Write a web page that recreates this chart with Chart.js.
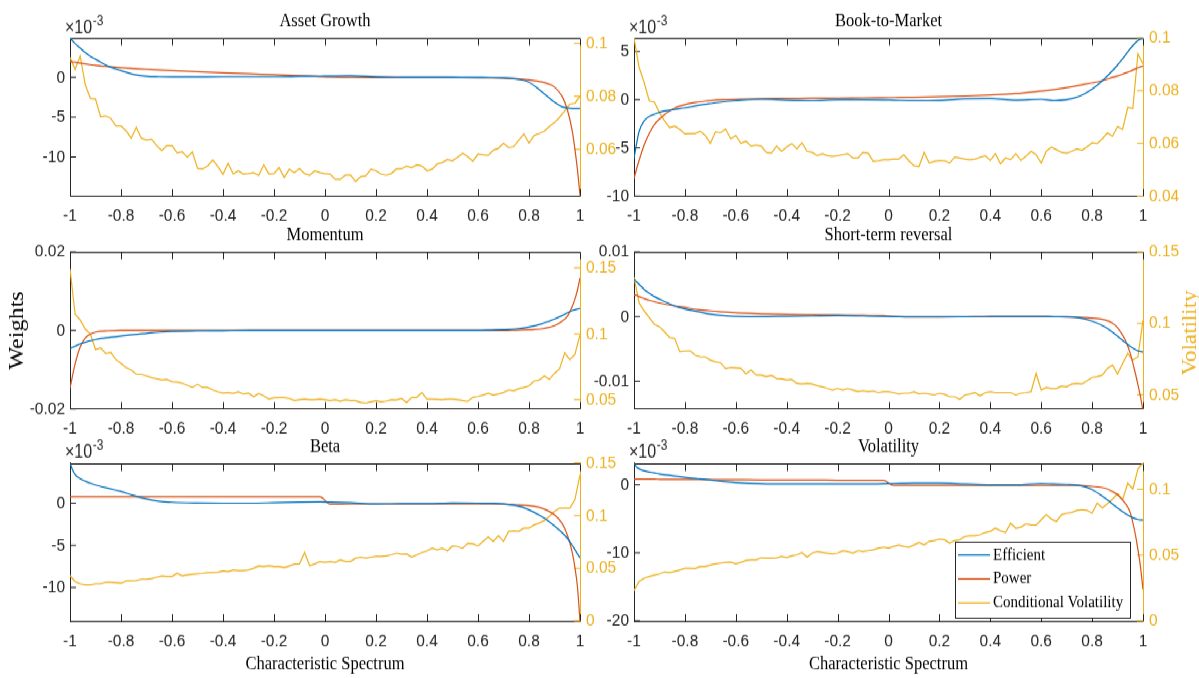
<!DOCTYPE html>
<html><head><meta charset="utf-8">
<script src="https://cdn.jsdelivr.net/npm/chart.js@4.4.1/dist/chart.umd.min.js"></script>
<style>
html,body{margin:0;padding:0;background:#fff;overflow:hidden;width:1199px;height:678px;}
#wrap{position:absolute;left:0;top:0;width:1199px;height:590px;transform-origin:0 0;}
canvas{position:absolute;}
</style></head><body><div id="wrap"></div>
<script>
// ---------- DATA ----------
const xTicks = [-1,-0.8,-0.6,-0.4,-0.2,0,0.2,0.4,0.6,0.8,1];
// grid of the smooth weight curves
const xs = [-1,-0.99,-0.98,-0.96,-0.94,-0.92,-0.9,-0.85,-0.8,-0.75,-0.7,-0.65,-0.6,-0.5,-0.4,-0.3,-0.2,-0.1,-0.02,0.02,0.1,0.2,0.3,0.4,0.5,0.6,0.65,0.7,0.75,0.8,0.85,0.88,0.9,0.93,0.95,0.97,0.98,0.99,1];
// grid of the conditional volatility series
const xv = [-1,-0.98,-0.96,-0.94,-0.92,-0.9,-0.88,-0.86,-0.84,-0.82,
-0.8,-0.78,-0.76,-0.74,-0.72,-0.7,-0.68,-0.66,-0.64,-0.62,
-0.6,-0.58,-0.56,-0.54,-0.52,-0.5,-0.48,-0.46,-0.44,-0.42,
-0.4,-0.38,-0.36,-0.34,-0.32,-0.3,-0.28,-0.26,-0.24,-0.22,
-0.2,-0.18,-0.16,-0.14,-0.12,-0.1,-0.08,-0.06,-0.04,-0.02,
0,0.02,0.04,0.06,0.08,0.1,0.12,0.14,0.16,0.18,
0.2,0.22,0.24,0.26,0.28,0.3,0.32,0.34,0.36,0.38,
0.4,0.42,0.44,0.46,0.48,0.5,0.52,0.54,0.56,0.58,
0.6,0.62,0.64,0.66,0.68,0.7,0.72,0.74,0.76,0.78,
0.8,0.82,0.84,0.86,0.88,0.9,0.92,0.94,0.96,0.98,1];

// Asset Growth (weights in 1e-3)
const assetEff = [4.9,4.6,4.25,3.7,3.1,2.65,2.3,1.4,0.85,0.35,0.13,0.08,0.06,0.07,0.08,0.08,0.08,0.12,0.15,0.17,0.2,0.05,0,-0.02,0,-0.02,-0.03,-0.05,-0.2,-0.6,-1.8,-2.6,-3.1,-3.7,-3.85,-3.9,-3.9,-3.9,-3.9];
const assetPow = [2.0,1.95,1.9,1.8,1.7,1.6,1.5,1.35,1.22,1.12,1.02,0.93,0.85,0.7,0.57,0.45,0.34,0.22,0.1,0.05,0.02,0,0,0,-0.02,-0.04,-0.06,-0.1,-0.15,-0.3,-0.55,-0.85,-1.2,-2.4,-4.0,-6.8,-9.0,-11.6,-14.8];
const assetVol = [0.0947,0.0902,0.0952,0.0843,0.0792,0.079,0.0723,0.0726,0.0717,0.0688,
0.0688,0.067,0.0642,0.0683,0.0642,0.0635,0.0638,0.0614,0.0595,0.0614,
0.0614,0.0587,0.0591,0.057,0.059,0.0528,0.0526,0.0538,0.056,0.0535,
0.0506,0.0547,0.0507,0.0519,0.0507,0.0509,0.0512,0.0502,0.0541,0.0507,
0.0509,0.0531,0.0494,0.0525,0.0512,0.0528,0.0509,0.0503,0.0519,0.0512,
0.0509,0.0507,0.0487,0.0487,0.0503,0.0503,0.0478,0.0497,0.05,0.0525,
0.0519,0.0507,0.0503,0.0509,0.0526,0.0527,0.0537,0.0531,0.0541,0.0537,
0.0519,0.0525,0.0545,0.055,0.0562,0.0557,0.057,0.0585,0.0572,0.0555,
0.0582,0.0579,0.0577,0.0597,0.0604,0.0623,0.0606,0.061,0.0635,0.0658,
0.0623,0.0652,0.066,0.0669,0.0686,0.0701,0.0721,0.0745,0.0771,0.0774,0.08];

// Book-to-Market (weights in 1e-3)
const bmEff = [-6.07,-4.6,-3.3,-2.2,-1.75,-1.5,-1.3,-1.05,-0.85,-0.6,-0.4,-0.22,-0.1,0.05,-0.05,-0.1,0,0,-0.02,-0.05,-0.1,-0.08,0.1,0.12,-0.05,0.05,-0.1,0,0.35,1.1,2.2,3.0,3.6,4.6,5.3,5.9,6.15,6.3,6.35];
const bmPow = [-8.2,-7.2,-6.3,-4.7,-3.5,-2.6,-2.0,-1.0,-0.5,-0.25,-0.1,0,0.05,0.1,0.12,0.15,0.17,0.2,0.22,0.23,0.25,0.3,0.38,0.48,0.62,0.9,1.05,1.25,1.5,1.75,2.05,2.3,2.45,2.75,2.95,3.2,3.3,3.4,3.5];
const bmVol = [0.1,0.0889,0.0831,0.0761,0.0757,0.0717,0.0685,0.0659,0.0665,0.0653,
0.0636,0.0637,0.0637,0.0646,0.063,0.0599,0.0644,0.064,0.0655,0.0617,
0.063,0.0599,0.0608,0.0589,0.0594,0.0589,0.0566,0.0563,0.0589,0.057,
0.0586,0.0599,0.0579,0.0602,0.057,0.0566,0.0553,0.0561,0.0553,0.0551,
0.0553,0.0557,0.0561,0.0544,0.0544,0.0566,0.0563,0.0531,0.0534,0.0538,
0.0538,0.054,0.054,0.0557,0.0534,0.0515,0.0512,0.0566,0.0525,0.0531,
0.0535,0.0534,0.0525,0.0548,0.0544,0.054,0.0538,0.054,0.0547,0.0553,
0.0535,0.0561,0.0522,0.0545,0.0538,0.0561,0.0535,0.0551,0.057,0.0557,
0.0525,0.057,0.0586,0.0576,0.0566,0.0563,0.057,0.0579,0.0574,0.0586,
0.0602,0.0599,0.0617,0.064,0.0627,0.0663,0.0653,0.0736,0.0732,0.094,0.0902];

// Momentum
const momEff = [-0.0047,-0.0043,-0.004,-0.0034,-0.003,-0.0026,-0.0023,-0.0018,-0.0014,-0.001,-0.0007,-0.0004,-0.0002,-0.0001,-0.00005,0,0,0,0,0,0,0,0,0,0,0,0.0001,0.0002,0.0004,0.0009,0.0017,0.0024,0.0029,0.0038,0.0045,0.0051,0.0053,0.0055,0.0056];
const momPow = [-0.0147,-0.0115,-0.0085,-0.0042,-0.0019,-0.0009,-0.0004,-0.0001,0,0,0,0,0,0,0,0,0,0,0,0,0,0,0,0,0,0,0,0,0.0001,0.0002,0.0004,0.0008,0.0012,0.0024,0.0036,0.0062,0.008,0.0103,0.0134];
const momVol = [0.1493,0.1148,0.1105,0.1035,0.1,0.088,0.0893,0.085,0.086,0.0805,
0.0775,0.0743,0.0725,0.0693,0.0693,0.068,0.0668,0.066,0.065,0.0655,
0.0638,0.0635,0.0625,0.061,0.0593,0.0618,0.0593,0.0593,0.0575,0.056,
0.055,0.0555,0.0548,0.056,0.0543,0.055,0.0523,0.0548,0.053,0.0505,
0.0515,0.0518,0.0518,0.051,0.0493,0.05,0.0505,0.05,0.05,0.0505,
0.05,0.0493,0.05,0.049,0.05,0.0493,0.0493,0.048,0.0475,0.0485,
0.0493,0.0485,0.049,0.05,0.0498,0.051,0.048,0.0518,0.0518,0.0555,
0.0505,0.0505,0.0503,0.05,0.0505,0.0505,0.05,0.0493,0.0488,0.0518,
0.0525,0.0535,0.055,0.0535,0.0543,0.0555,0.0575,0.0568,0.0585,0.0593,
0.0605,0.0643,0.065,0.068,0.0655,0.07,0.0735,0.0855,0.0805,0.0843,0.0993];

// Short-term reversal
const strEff = [0.0058,0.0054,0.005,0.0042,0.0036,0.0031,0.0027,0.0018,0.0012,0.0008,0.0004,0.00015,0.00003,0,0.00005,0.0001,0.00015,0.0001,0.00005,0,0,0,0,0.00002,0.00005,0.00005,0,-0.00002,-0.0002,-0.0007,-0.0016,-0.0024,-0.003,-0.004,-0.0046,-0.0051,-0.0053,-0.0054,-0.0055];
const strPow = [0.0034,0.0033,0.0031,0.0028,0.0025,0.0023,0.0021,0.0017,0.0014,0.0011,0.0009,0.00075,0.0006,0.00045,0.00035,0.0003,0.00025,0.0002,0.00015,0.00005,-0.00005,-0.00005,-0.00003,0,0,0,-0.00003,-0.00005,-0.0001,-0.00025,-0.0005,-0.001,-0.0017,-0.0036,-0.0057,-0.0088,-0.0105,-0.0124,-0.0146];
const strVol = [0.1325,0.1143,0.1088,0.1041,0.0994,0.0976,0.0941,0.0901,0.0894,0.0801,
0.0806,0.0808,0.0778,0.0766,0.0766,0.0743,0.0731,0.0724,0.0682,0.0691,
0.0689,0.0684,0.0645,0.0673,0.0638,0.0638,0.0626,0.0635,0.0614,0.0612,
0.0603,0.0607,0.0579,0.0575,0.0579,0.0575,0.0563,0.0556,0.0544,0.0533,
0.0544,0.0533,0.0544,0.0533,0.0521,0.0528,0.0521,0.0526,0.0514,0.0521,
0.0521,0.0514,0.0505,0.051,0.051,0.0521,0.0505,0.051,0.0505,0.0498,
0.051,0.0503,0.0486,0.0486,0.0468,0.0498,0.0505,0.0514,0.0491,0.0514,
0.0521,0.0514,0.0514,0.0514,0.0514,0.0498,0.051,0.0514,0.0521,0.0649,
0.0533,0.0551,0.0544,0.0544,0.0561,0.0556,0.0575,0.0579,0.0575,0.0598,
0.0621,0.0626,0.0638,0.0684,0.0708,0.0645,0.0719,0.0789,0.0743,0.0766,0.1022];

// Beta (weights in 1e-3)
const betaEff = [4.74,3.95,3.4,2.9,2.6,2.35,2.15,1.75,1.38,0.9,0.5,0.22,0.1,0.02,0,0,0.05,0.12,0.15,0.12,0.04,-0.08,-0.05,-0.05,0.02,0,-0.02,-0.08,-0.3,-0.8,-1.6,-2.2,-2.7,-3.5,-4.15,-5.0,-5.5,-6.0,-6.5];
const betaPow = [0.76,0.76,0.76,0.76,0.76,0.76,0.76,0.76,0.76,0.76,0.76,0.76,0.76,0.76,0.76,0.76,0.76,0.76,0.76,-0.12,-0.1,-0.1,-0.1,-0.1,-0.1,-0.1,-0.1,-0.12,-0.2,-0.3,-0.6,-1.0,-1.4,-2.4,-3.75,-5.9,-7.6,-9.9,-13.95];
const betaVol = [0.0431,0.0374,0.0352,0.0342,0.0342,0.0352,0.0352,0.0368,0.0368,0.0365,
0.0358,0.038,0.038,0.0384,0.0396,0.0396,0.0403,0.0415,0.0428,0.0422,
0.0422,0.0453,0.0428,0.0438,0.0444,0.045,0.0453,0.046,0.046,0.0463,
0.0476,0.0469,0.0485,0.0479,0.0479,0.0485,0.0501,0.0523,0.0517,0.0526,
0.0517,0.0517,0.0507,0.0523,0.0539,0.0542,0.065,0.0523,0.0542,0.0564,
0.0555,0.0564,0.0555,0.058,0.0564,0.0564,0.0596,0.0606,0.0596,0.0606,
0.0612,0.0612,0.0618,0.0628,0.0644,0.0634,0.0637,0.0606,0.0628,0.065,
0.0666,0.0691,0.0675,0.0691,0.0666,0.0713,0.0707,0.0691,0.0739,0.0732,
0.0713,0.0755,0.0796,0.0755,0.0809,0.0755,0.085,0.0856,0.085,0.0882,
0.0882,0.0913,0.0929,0.0954,0.0993,0.104,0.1072,0.1072,0.1072,0.1151,0.1389];

// Volatility (weights in 1e-3)
const volEff = [3.2,2.6,2.35,2.05,1.9,1.75,1.6,1.35,1.1,0.9,0.72,0.5,0.34,0.15,0.1,0.1,0.1,0.1,0.15,0.18,0.25,0.25,0.12,0,0,0.18,0.1,0.05,-0.1,-0.7,-1.95,-2.8,-3.4,-4.2,-4.65,-5.0,-5.1,-5.15,-5.15];
const volPow = [0.83,0.83,0.83,0.82,0.82,0.82,0.8,0.79,0.78,0.77,0.76,0.75,0.74,0.72,0.71,0.7,0.68,0.67,0.65,-0.1,-0.1,-0.1,-0.1,-0.1,-0.1,-0.1,-0.1,-0.1,-0.1,-0.24,-0.5,-1.0,-1.46,-2.7,-4.1,-7.3,-9.5,-12,-15.4];
const volVol = [0.0231,0.03,0.0325,0.0337,0.0348,0.0358,0.0373,0.0368,0.0376,0.0388,
0.0401,0.0401,0.0398,0.0414,0.0414,0.0424,0.0434,0.0439,0.0444,0.0447,
0.0434,0.0444,0.0459,0.0464,0.0464,0.048,0.0477,0.0477,0.048,0.049,
0.0482,0.0495,0.0502,0.052,0.0485,0.0515,0.0528,0.052,0.0515,0.051,
0.0515,0.0533,0.0528,0.0515,0.0535,0.0528,0.0535,0.054,0.0553,0.0561,
0.0553,0.0566,0.0578,0.0566,0.0561,0.0578,0.0596,0.0578,0.0604,0.0611,
0.0622,0.0617,0.0591,0.0611,0.0617,0.0642,0.0647,0.0647,0.0655,0.0672,
0.068,0.0705,0.0685,0.0672,0.0743,0.0705,0.0713,0.0738,0.0731,0.0728,
0.0769,0.0807,0.0774,0.0756,0.0807,0.0819,0.0825,0.084,0.0845,0.084,
0.0819,0.0896,0.0858,0.0891,0.0926,0.0967,0.0921,0.1048,0.1002,0.1154,0.12];

// tick labels
const assetTicksL = [-10,-5,0], assetTicksR = [0.06,0.08,0.1];
const bmTicksL = [-10,-5,0,5], bmTicksR = [0.04,0.06,0.08,0.1];
const momTicksL = [-0.02,0,0.02], momTicksR = [0.05,0.1,0.15];
const strTicksL = [-0.01,0,0.01], strTicksR = [0.05,0.1,0.15];
const betaTicksL = [-10,-5,0], betaTicksR = [0,0.05,0.1,0.15];
const volTicksL = [-20,-10,0], volTicksR = [0,0.05,0.1];
const seriesNames = ['Efficient','Power','Conditional Volatility'];

// ---------- LAYOUT / STYLE ----------
const S = 1.15;               // vertical stretch of the figure
const U = v => v / S;
const AX = '#262626', Y2 = '#EDB120', BLUE = '#0072BD', RED = '#D95319';
const COLS = [{left:70,right:580,cL:0,cR:640},{left:634,right:1143,cL:564,cR:1199}];
const ROWS = [{top:38,bottom:196},{top:252,bottom:409},{top:463,bottom:621}];
document.getElementById('wrap').style.transform = 'scaleY(' + S + ')';

const panels = [
 {title:'Asset Growth', col:0,row:0, eff:assetEff,pow:assetPow,vol:assetVol, yMin:-14.9,yMax:4.95,yT:assetTicksL, rMin:0.0424,rMax:0.102,rT:assetTicksR, exp:true},
 {title:'Book-to-Market', col:1,row:0, eff:bmEff,pow:bmPow,vol:bmVol, yMin:-10,yMax:6.4,yT:bmTicksL, rMin:0.04,rMax:0.1,rT:bmTicksR, exp:true},
 {title:'Momentum', col:0,row:1, eff:momEff,pow:momPow,vol:momVol, yMin:-0.02,yMax:0.02,yT:momTicksL, rMin:0.043,rMax:0.162,rT:momTicksR, ylab:'Weights'},
 {title:'Short-term reversal', col:1,row:1, eff:strEff,pow:strPow,vol:strVol, yMin:-0.0143,yMax:0.01,yT:strTicksL, rMin:0.04,rMax:0.15,rT:strTicksR, rlab:'Volatility'},
 {title:'Beta', col:0,row:2, eff:betaEff,pow:betaPow,vol:betaVol, yMin:-13.95,yMax:4.75,yT:betaTicksL, rMin:0,rMax:0.15,rT:betaTicksR, exp:true, xlab:true},
 {title:'Volatility', col:1,row:2, eff:volEff,pow:volPow,vol:volVol, yMin:-20,yMax:3.2,yT:volTicksL, rMin:0,rMax:0.12,rT:volTicksR, exp:true, xlab:true, legend:true}
];

const deco = {
  id:'deco',
  beforeDatasetsDraw(chart, args, o){
    const {ctx, chartArea:a, scales} = chart;
    ctx.save();
    ctx.lineWidth = 1;
    ctx.strokeStyle = AX;
    ctx.beginPath();
    const ty = Math.round(a.top) + 0.5;
    ctx.moveTo(a.left, ty); ctx.lineTo(a.right, ty);
    const L = U(7), LH = 6;
    scales.x.ticks.forEach(t => {
      const px = Math.round(scales.x.getPixelForValue(t.value)) + 0.5;
      ctx.moveTo(px, a.bottom); ctx.lineTo(px, a.bottom - L);
      ctx.moveTo(px, ty); ctx.lineTo(px, ty + L);
    });
    scales.y.ticks.forEach(t => {
      const py = scales.y.getPixelForValue(t.value);
      ctx.moveTo(a.left, py); ctx.lineTo(a.left + LH, py);
    });
    ctx.stroke();
    ctx.strokeStyle = Y2;
    ctx.beginPath();
    scales.y2.ticks.forEach(t => {
      const py = scales.y2.getPixelForValue(t.value);
      ctx.moveTo(a.right, py); ctx.lineTo(a.right - LH, py);
    });
    ctx.stroke();
    ctx.restore();
  },
  afterDraw(chart, args, o){
    const {ctx, chartArea:a} = chart;
    ctx.save();
    if (o.exp) {
      ctx.fillStyle = AX; ctx.textAlign = 'left'; ctx.textBaseline = 'alphabetic';
      ctx.font = '16px "Liberation Sans"';
      const bx = a.left - 5, by = a.top - U(5);
      ctx.fillText('\u00d710', bx, by);
      const w = ctx.measureText('\u00d710').width;
      ctx.font = '12px "Liberation Sans"';
      ctx.fillText('-3', bx + w + 0.5, by - U(8));
    }
    if (o.rlab) {
      ctx.translate(1191 - o.cL, U(333) - o.cTop);
      ctx.rotate(-Math.PI/2);
      ctx.font = '20px "Liberation Serif"'; ctx.fillStyle = Y2;
      ctx.textAlign = 'center'; ctx.textBaseline = 'middle';
      ctx.fillText(o.rlab, 0, 0);
      ctx.setTransform(1,0,0,1,0,0);
    }
    if (o.legend) {
      const X = v => v - o.cL, Y = v => U(v) - o.cTop;
      const x0 = X(955), x1 = X(1130), y0 = Y(542), y1 = Y(618);
      ctx.fillStyle = '#fff'; ctx.fillRect(x0, y0, x1 - x0, y1 - y0);
      ctx.strokeStyle = AX; ctx.lineWidth = 1;
      ctx.strokeRect(Math.round(x0)+0.5, Math.round(y0)+0.5, Math.round(x1-x0), Math.round(y1 - y0));
      const cols = [BLUE, RED, Y2], ys = [555, 579, 603];
      ctx.font = '15px "Liberation Serif"'; ctx.textAlign = 'left'; ctx.textBaseline = 'middle';
      seriesNames.forEach((n, i) => {
        ctx.strokeStyle = cols[i]; ctx.lineWidth = 1.3;
        ctx.beginPath(); ctx.moveTo(X(958), Y(ys[i])); ctx.lineTo(X(990), Y(ys[i])); ctx.stroke();
        ctx.fillStyle = '#000'; ctx.fillText(n, X(993), Y(ys[i]));
      });
    }
    ctx.restore();
  }
};

const serif = (size) => ({family:'Liberation Serif', size, weight:'normal', lineHeight:1.2});
const sans = {family:'Liberation Sans', size:15.5, lineHeight:1.2};

panels.forEach(p => {
  const c = COLS[p.col], r = ROWS[p.row];
  const cTop = Math.round(U(r.top) - 32);
  const plotTop = U(r.top) - cTop;
  const plotBot = U(r.bottom) - cTop;
  const h = p.row === 2 ? Math.round(U(678) - cTop) : Math.round(plotBot + 40);
  const w = c.cR - c.cL;
  const cv = document.createElement('canvas');
  cv.width = w; cv.height = h;
  cv.style.left = c.cL + 'px'; cv.style.top = cTop + 'px';
  cv.style.width = w + 'px'; cv.style.height = h + 'px';
  document.getElementById('wrap').appendChild(cv);

  const titleH = 16.5 * 1.2;
  const tPadB = U(16.5) - titleH / 2;
  const tPadT = plotTop - titleH - tPadB;

  new Chart(cv, {
    type: 'line',
    data: {
      datasets: [
        {label: seriesNames[0], data: xs.map((x,i)=>({x, y:p.eff[i]})), borderColor: BLUE, borderWidth:1.2, pointRadius:0, cubicInterpolationMode:'monotone', yAxisID:'y'},
        {label: seriesNames[1], data: xs.map((x,i)=>({x, y:p.pow[i]})), borderColor: RED, borderWidth:1.2, pointRadius:0, cubicInterpolationMode:'monotone', yAxisID:'y'},
        {label: seriesNames[2], data: xv.map((x,i)=>({x, y:p.vol[i]})), borderColor: Y2, borderWidth:1.2, pointRadius:0, tension:0, yAxisID:'y2'}
      ]
    },
    options: {
      responsive:false, animation:false, devicePixelRatio:1, events:[],
      layout:{padding:0},
      plugins:{
        legend:{display:false}, tooltip:{enabled:false},
        title:{display:true, text:p.title, fullSize:false, color:'#000', font:serif(16.5), padding:{top:tPadT, bottom:tPadB}},
        deco:{exp:!!p.exp, legend:!!p.legend, rlab:p.rlab||null, cL:c.cL, cTop:cTop}
      },
      scales:{
        x:{type:'linear', position:'bottom', min:-1, max:1,
           afterBuildTicks: s => { s.ticks = xTicks.map(v=>({value:v})); },
           afterFit: s => { s.height = h - plotBot; },
           grid:{display:false, drawTicks:false},
           border:{display:true, color:AX, width:1},
           ticks:{color:AX, font:sans, padding:U(20) - 9.3, autoSkip:false, maxRotation:0,
                  callback: v => { const q = Math.round(v*10)/10; return q === 0 ? '0' : String(q); }},
           title: p.xlab ? {display:true, text:'Characteristic Spectrum', color:'#000', font:serif(16.5),
                  padding:{top:0, bottom:(h - (U(664) - cTop)) - 9.9}} : {display:false}
        },
        y:{type:'linear', position:'left', min:p.yMin, max:p.yMax,
           afterBuildTicks: s => { s.ticks = p.yT.map(v=>({value:v})); },
           afterFit: s => { s.width = c.left - c.cL; },
           grid:{display:false, drawTicks:false},
           border:{display:true, color:AX, width:1},
           ticks:{color:AX, font:sans, padding:5, autoSkip:false, callback: v => String(v)},
           title: p.ylab ? {display:true, text:p.ylab, color:'#000', font:serif(21), padding:{top:17 - 12.6, bottom:0}} : {display:false}
        },
        y2:{type:'linear', position:'right', min:p.rMin, max:p.rMax,
           afterBuildTicks: s => { s.ticks = p.rT.map(v=>({value:v})); },
           afterFit: s => { s.width = c.cR - c.right; },
           grid:{display:false, drawTicks:false},
           border:{display:true, color:Y2, width:1},
           ticks:{color:Y2, font:sans, padding:6, autoSkip:false, callback: v => String(v)}
        }
      }
    },
    plugins:[deco]
  });
});
</script></body></html>
